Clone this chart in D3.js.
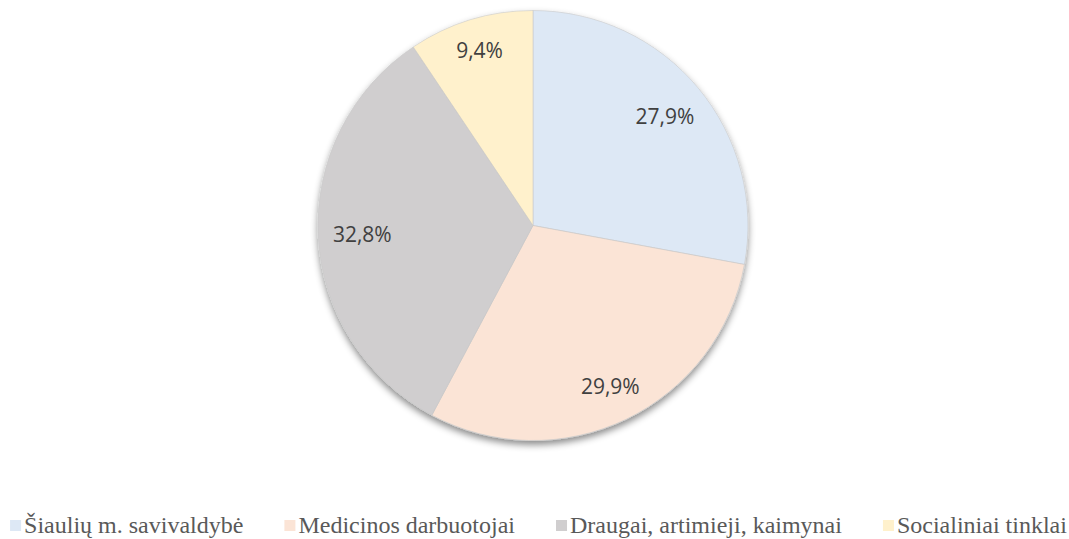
<!DOCTYPE html>
<html>
<head>
<meta charset="utf-8">
<script src="https://cdn.jsdelivr.net/npm/d3@7"></script>
<style>
  html, body { margin: 0; padding: 0; background: #fff; }
  svg { display: block; }
</style>
</head>
<body>
<div id="chart"></div>
<script>
var categories = ['Šiaulių m. savivaldybė', 'Medicinos darbuotojai', 'Draugai, artimieji, kaimynai', 'Socialiniai tinklai'];
var values = [27.9, 29.9, 32.8, 9.4];
var labels = ['27,9%', '29,9%', '32,8%', '9,4%'];
var colors = ['#dde8f5', '#fbe4d6', '#d0cecf', '#fff1cc'];

var width = 1069;
var height = 539;
var cx = 533;
var cy = 225.5;
var radius = 215;
// labels sit so that their outer corner is a bit inside the rim
var labelRim = 201;

var svg = d3.select('#chart').append('svg')
    .attr('width', width)
    .attr('height', height);

var defs = svg.append('defs');
var shadow = defs.append('filter')
    .attr('id', 'shadow')
    .attr('x', '-10%').attr('y', '-10%')
    .attr('width', '120%').attr('height', '125%');
shadow.append('feDropShadow')
    .attr('dx', 0).attr('dy', 4)
    .attr('stdDeviation', 3.5)
    .attr('flood-color', '#000')
    .attr('flood-opacity', 0.45);

var data = categories.map(function(name, i) {
    return { name: name, value: values[i], label: labels[i], color: colors[i] };
});

var pie = d3.pie()
    .sort(null)
    .value(function(d) { return d.value; });

var arc = d3.arc()
    .innerRadius(0)
    .outerRadius(radius);

var arcs = pie(data);

var g = svg.append('g')
    .attr('transform', 'translate(' + cx + ',' + cy + ')');

g.append('g')
    .attr('filter', 'url(#shadow)')
    .selectAll('path')
    .data(arcs)
    .enter().append('path')
    .attr('d', arc)
    .attr('fill', function(d) { return d.data.color; })
    .attr('stroke', '#c9c9c9')
    .attr('stroke-width', 0.6);

var labelSel = g.append('g')
    .selectAll('text')
    .data(arcs)
    .enter().append('text')
    .attr('text-anchor', 'middle')
    .attr('dominant-baseline', 'central')
    .attr('font-family', '"Open Sans", "DejaVu Sans", sans-serif')
    .attr('font-size', 21)
    .attr('fill', '#404040')
    .text(function(d) { return d.data.label; });

labelSel.each(function(d) {
    var box = this.getBBox();
    var hw = box.width / 2;
    var hh = box.height / 2 - 4;
    var a = (d.startAngle + d.endAngle) / 2;
    var sx = Math.sin(a);
    var sy = -Math.cos(a);
    var lo = 0, hi = radius;
    for (var k = 0; k < 40; k++) {
        var mid = (lo + hi) / 2;
        var px = mid * sx, py = mid * sy;
        var far = Math.sqrt(Math.pow(Math.abs(px) + hw, 2) + Math.pow(Math.abs(py) + hh, 2));
        if (far > labelRim) hi = mid; else lo = mid;
    }
    d3.select(this)
        .attr('x', lo * sx)
        .attr('y', lo * sy);
});

// legend
var legendY = 533;
var swatch = 11;
var swatchGap = 3;
var itemGap = 41;

var legend = svg.append('g');
var items = legend.selectAll('g')
    .data(data)
    .enter().append('g');

items.append('rect')
    .attr('width', swatch)
    .attr('height', swatch)
    .attr('y', legendY - 13)
    .attr('fill', function(d) { return d.color; });

items.append('text')
    .attr('x', swatch + swatchGap)
    .attr('y', legendY)
    .attr('font-family', '"Liberation Serif", "Times New Roman", serif')
    .attr('font-size', 24)
    .attr('fill', '#595959')
    .text(function(d) { return d.name; });

var widths = [];
items.each(function() {
    widths.push(this.querySelector('text').getComputedTextLength() + swatch + swatchGap);
});
var total = d3.sum(widths) + itemGap * (widths.length - 1);
var x = (width - total) / 2 + 4;
items.attr('transform', function(d, i) {
    var t = 'translate(' + x + ',0)';
    x += widths[i] + itemGap;
    return t;
});
</script>
</body>
</html>
